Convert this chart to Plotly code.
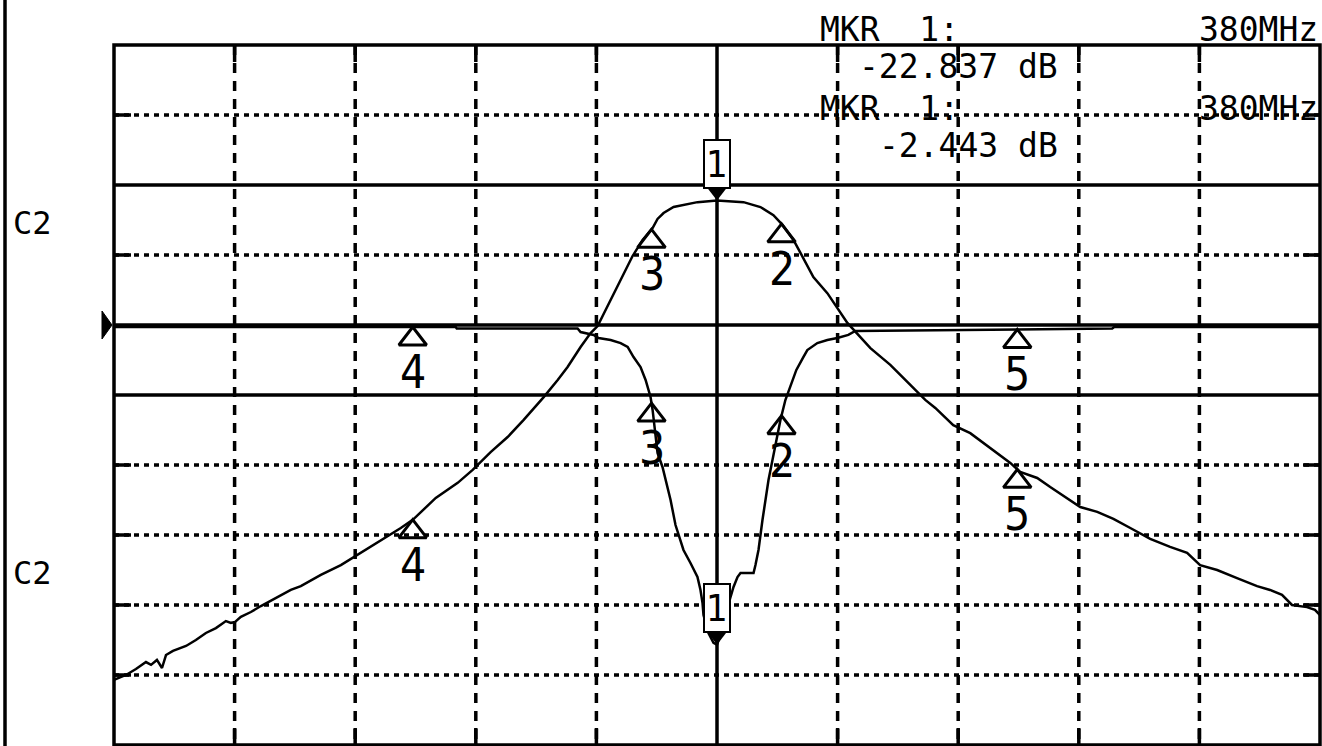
import numpy as np
import plotly.graph_objects as go

# ---------------- data ----------------
FREQ_START_MHZ = 330.0
FREQ_STOP_MHZ = 430.0

S11_REF_DB, S11_SCALE_DB = 0.0, 5.0    # reflection trace, dB and dB/div
S21_REF_DB, S21_SCALE_DB = -6.0, 2.0   # transmission trace, dB and dB/div
REF_DIV = 6                            # reference position, divisions from bottom

s21_freq_mhz = [330.0, 330.99, 331.82, 332.65, 333.07, 333.56, 333.98, 334.31, 334.89, 335.97,
                336.79, 337.62, 338.45, 339.28, 339.69, 340.02, 340.52, 341.35, 342.18, 343.42,
                344.66, 345.49, 347.15, 348.81, 350.46, 352.12, 353.78, 354.86, 356.68, 358.50,
                359.74, 361.23, 362.64, 363.97, 365.63, 366.79, 367.61, 368.69, 369.52, 370.10,
                371.18, 372.25, 373.00, 373.83, 374.66, 375.07, 375.57, 376.40, 378.38, 380.0,
                382.20, 383.60, 384.68, 385.43, 386.34, 386.92, 387.99, 389.15, 390.23, 390.81,
                392.72, 394.37, 396.03, 397.27, 398.10, 399.59, 401.00, 402.08, 403.24, 404.32,
                405.14, 406.55, 407.63, 409.04, 410.12, 411.53, 412.87, 414.27, 415.92, 417.57,
                418.98, 420.06, 421.47, 423.12, 424.78, 425.86, 426.85, 427.68, 428.92, 429.58,
                430.0]
s21_db = [-16.14, -16.0, -15.83, -15.63, -15.71, -15.57, -15.8, -15.43, -15.31, -15.17,
          -15.0, -14.8, -14.66, -14.46, -14.51, -14.49, -14.34, -14.2, -14.03, -13.8,
          -13.57, -13.46, -13.14, -12.86, -12.51, -12.14, -11.8, -11.54, -10.94, -10.51,
          -10.14, -9.63, -9.2, -8.71, -8.06, -7.57, -7.2, -6.63, -6.23, -6.03,
          -5.29, -4.51, -4.03, -3.57, -3.23, -2.97, -2.8, -2.63, -2.49, -2.443,
          -2.49, -2.63, -2.86, -3.14, -3.57, -3.94, -4.63, -5.09, -5.66, -5.94,
          -6.66, -7.14, -7.71, -8.14, -8.37, -8.86, -9.09, -9.37, -9.66, -9.94,
          -10.2, -10.37, -10.63, -10.94, -11.2, -11.34, -11.54, -11.8, -12.11, -12.34,
          -12.51, -12.86, -13.0, -13.23, -13.46, -13.57, -13.71, -14.0, -14.06, -14.14,
          -14.29]

s11_freq_mhz = [330.0, 358.33, 358.42, 368.44, 368.69, 369.77, 370.18, 371.18, 372.01, 372.59,
                373.08, 373.66, 374.08, 374.49, 374.66, 375.07, 375.48, 375.90, 376.15, 376.56,
                377.22, 377.80, 378.38, 378.63, 378.80, 378.88, 379.29, 379.71, 380.0, 380.29,
                380.71, 381.12, 381.37, 381.70, 381.95, 383.03, 383.19, 383.44, 383.77, 384.02,
                384.27, 384.60, 384.93, 385.26, 385.67, 386.09, 386.58, 387.16, 387.49, 388.32,
                389.15, 389.98, 390.89, 391.47, 412.77, 412.94, 430.0]
s11_db = [-0.14, -0.14, -0.25, -0.25, -0.5, -0.71, -0.93, -1.07, -1.29, -1.57,
          -2.29, -3.0, -3.93, -5.14, -6.07, -9.14, -10.14, -11.57, -12.5, -14.29,
          -16.07, -17.0, -18.0, -18.93, -19.86, -20.71, -22.0, -22.71, -22.837, -22.14,
          -20.71, -19.43, -18.71, -18.0, -17.71, -17.71, -17.14, -16.07, -13.93, -12.5,
          -11.07, -9.64, -8.21, -6.79, -5.36, -4.29, -3.21, -2.29, -1.79, -1.29,
          -1.07, -0.93, -0.71, -0.43, -0.25, -0.14, -0.14]

marker_freq_mhz = [380.0, 385.35, 374.57, 354.77, 404.9]
marker_names = ["1", "2", "3", "4", "5"]

readout_label = "MKR  1:"
readout_freq = "380MHz"
readout_s11 = "-22.837 dB"
readout_s21 = "-2.443 dB"
channel_labels = ["C2", "C2"]

# ---------------- geometry / style ----------------
W, H = 1322, 746
ML, MR, MT, MB = 114, 2, 45, 1
PW, PH = W - ML - MR, H - MT - MB
NDIV = 10
PX_DIV = PH / NDIV
TICK_PX = 17
SOLID_H_DIVS = (5, 6, 8)
MONO = "DejaVu Sans Mono"
NARROW = "Liberation Sans Narrow, DejaVu Sans Condensed, DejaVu Sans"
LW = 3.5
TRACE_W = 2.5


def px_x(px):
    return (px - ML) / PW


def px_y(py):
    return (H - MB - py) / PH


def dpx(px, scale):
    return px / PX_DIV * scale


s11_range = [S11_REF_DB - REF_DIV * S11_SCALE_DB, S11_REF_DB + (NDIV - REF_DIV) * S11_SCALE_DB]
s21_range = [S21_REF_DB - REF_DIV * S21_SCALE_DB, S21_REF_DB + (NDIV - REF_DIV) * S21_SCALE_DB]

s11_mk = np.interp(marker_freq_mhz, s11_freq_mhz, s11_db)
s21_mk = np.interp(marker_freq_mhz, s21_freq_mhz, s21_db)

fig = go.Figure()
fig.add_trace(go.Scatter(x=s11_freq_mhz, y=s11_db, mode="lines", yaxis="y",
                         line=dict(color="black", width=TRACE_W), hoverinfo="skip"))
fig.add_trace(go.Scatter(x=s21_freq_mhz, y=s21_db, mode="lines", yaxis="y2",
                         line=dict(color="black", width=TRACE_W), hoverinfo="skip"))

annotations = []
TRI_SIZE = 24
for axis, vals, scale in (("y", s11_mk, S11_SCALE_DB), ("y2", s21_mk, S21_SCALE_DB)):
    # delta markers 2..5: open triangles with apex on the trace
    fig.add_trace(go.Scatter(
        x=marker_freq_mhz[1:], y=vals[1:] - dpx(TRI_SIZE / 2, scale), mode="markers", yaxis=axis,
        marker=dict(symbol="triangle-up-open", size=TRI_SIZE, color="black",
                    line=dict(color="black", width=3)), hoverinfo="skip"))
    for f, v, name in zip(marker_freq_mhz[1:], vals[1:], marker_names[1:]):
        annotations.append(dict(x=f, y=v, xref="x", yref=axis, text=name, showarrow=False,
                                yanchor="top", yshift=-16,
                                font=dict(family=NARROW, size=46, color="black")))
    # active marker 1: filled pointer + boxed label
    fig.add_trace(go.Scatter(
        x=marker_freq_mhz[:1], y=[vals[0] + dpx(10, scale)], mode="markers", yaxis=axis,
        marker=dict(symbol="triangle-down", size=20, color="black"), hoverinfo="skip"))
    annotations.append(dict(x=marker_freq_mhz[0], y=vals[0], xref="x", yref=axis,
                            text=marker_names[0], showarrow=False, yanchor="bottom", yshift=12,
                            bordercolor="black", borderwidth=2, borderpad=1, bgcolor="white",
                            font=dict(family=NARROW, size=38, color="black")))

# header readouts
rows = [(29.5, readout_label, readout_freq, None), (66.5, None, None, readout_s11),
        (108.5, readout_label, readout_freq, None), (145.5, None, None, readout_s21)]
for py, lab, fr, val in rows:
    if lab:
        annotations.append(dict(x=px_x(818), y=px_y(py), xref="paper", yref="paper", text=lab,
                                showarrow=False, xanchor="left", yanchor="middle",
                                font=dict(family=MONO, size=33, color="black")))
        annotations.append(dict(x=px_x(1320), y=px_y(py), xref="paper", yref="paper", text=fr,
                                showarrow=False, xanchor="right", yanchor="middle",
                                font=dict(family=MONO, size=33, color="black")))
    if val:
        annotations.append(dict(x=px_x(1060), y=px_y(py), xref="paper", yref="paper", text=val,
                                showarrow=False, xanchor="right", yanchor="middle",
                                font=dict(family=MONO, size=33, color="black")))
for py, lab in zip((223, 573), channel_labels):
    annotations.append(dict(x=px_x(32), y=px_y(py), xref="paper", yref="paper", text=lab,
                            showarrow=False, xanchor="center", yanchor="middle",
                            font=dict(family=MONO, size=32, color="black")))

# graticule
shapes = []
tick_x = TICK_PX / PW
tick_y = TICK_PX / PH
for i in range(1, NDIV):
    yp = i / NDIV
    if i in SOLID_H_DIVS:
        shapes.append(dict(type="line", xref="paper", yref="paper", x0=0, x1=1, y0=yp, y1=yp,
                           line=dict(color="black", width=LW), layer="below"))
    else:
        shapes.append(dict(type="line", xref="paper", yref="paper", x0=0, x1=1, y0=yp, y1=yp,
                           line=dict(color="black", width=LW, dash="5px,5px"), layer="below"))
        for a, b in ((0, tick_x), (1 - tick_x, 1)):
            shapes.append(dict(type="line", xref="paper", yref="paper", x0=a, x1=b, y0=yp, y1=yp,
                               line=dict(color="black", width=LW), layer="below"))
step = (FREQ_STOP_MHZ - FREQ_START_MHZ) / NDIV
for j in range(1, NDIV):
    xv = FREQ_START_MHZ + j * step
    if j == NDIV // 2:
        shapes.append(dict(type="line", xref="x", yref="paper", x0=xv, x1=xv, y0=0, y1=1,
                           line=dict(color="black", width=LW), layer="below"))
    else:
        shapes.append(dict(type="line", xref="x", yref="paper", x0=xv, x1=xv, y0=1, y1=0,
                           line=dict(color="black", width=LW, dash="10px,8px"), layer="below"))
        for a, b in ((0, tick_y), (1 - tick_y, 1)):
            shapes.append(dict(type="line", xref="x", yref="paper", x0=xv, x1=xv, y0=a, y1=b,
                               line=dict(color="black", width=LW), layer="below"))
shapes.append(dict(type="rect", xref="paper", yref="paper", x0=0, x1=1, y0=0, y1=1,
                   line=dict(color="black", width=LW)))
# outer frame line on the far left
shapes.append(dict(type="line", xref="paper", yref="paper", x0=px_x(5), x1=px_x(5),
                   y0=px_y(H + 2), y1=px_y(-2), line=dict(color="black", width=LW)))
# reference-position pointer
ref_p = REF_DIV / NDIV
hh = 14 / PH
shapes.append(dict(type="path", xref="paper", yref="paper",
                   path=f"M {px_x(102)},{ref_p + hh} L {px_x(102)},{ref_p - hh} "
                        f"L {px_x(112)},{ref_p} Z",
                   fillcolor="black", line=dict(color="black", width=1)))

hidden = dict(showgrid=False, zeroline=False, showticklabels=False, ticks="", showline=False,
              fixedrange=True)
fig.update_layout(
    width=W, height=H, margin=dict(l=ML, r=MR, t=MT, b=MB, pad=0),
    paper_bgcolor="white", plot_bgcolor="white", showlegend=False,
    xaxis=dict(range=[FREQ_START_MHZ, FREQ_STOP_MHZ], **hidden),
    yaxis=dict(range=s11_range, **hidden),
    yaxis2=dict(range=s21_range, overlaying="y", **hidden),
    shapes=shapes, annotations=annotations,
)

fig.write_html("out.html", config={"displayModeBar": False},
               post_script="document.body.style.margin='0';document.body.style.overflow='hidden';")
